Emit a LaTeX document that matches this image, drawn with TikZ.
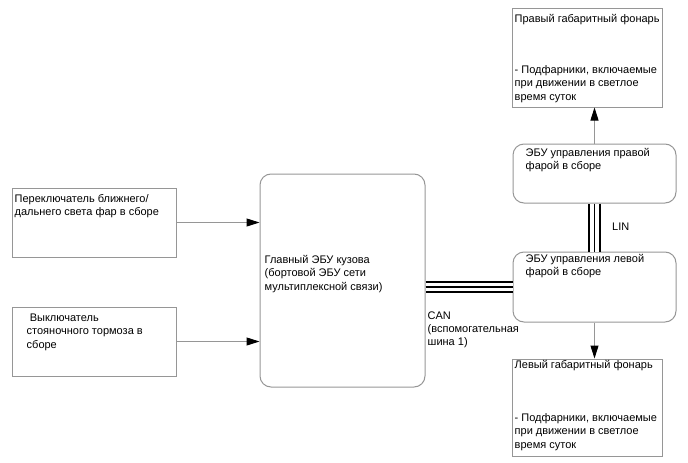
\documentclass[tikz,border=0pt]{standalone}
\usepackage{fontspec}
\setmainfont{Liberation Sans}
\usepackage{xcolor}
\usepackage{tikz}
\usetikzlibrary{arrows.meta,positioning,calc}
\definecolor{boxgray}{RGB}{150,150,150}
\newcommand{\BusLine}[2]{%
  \draw[line width=12.5pt] (#1) -- (#2);
  \draw[white, line width=8.5pt] (#1) -- (#2);
  \draw[line width=1.2pt] (#1) -- (#2);
}

\begin{document}
\begin{tikzpicture}[x=1pt, y=-1pt,
    font=\fontsize{11}{13.3}\selectfont,
    blockbox/.style={draw=boxgray, line width=1pt, inner sep=0pt},
    ecubox/.style={blockbox, rounded corners=11pt},
    txt/.style={anchor=base west, align=left, inner sep=0pt},
    sig/.style={color=boxgray, line width=1pt, -{Triangle[length=13pt,width=8pt,black]}}]
  \useasboundingbox (0,0) rectangle (688,463);
  % inputs
  \node[blockbox, minimum width=164pt, minimum height=69pt] (beam) at (94,222.5) {};
  \node[blockbox, minimum width=164pt, minimum height=69pt] (brake) at (94,341.5) {};
  \node[txt] (beam-txt) at ($(beam.north west)+(3,28.3)$) {Переключатель ближнего/\\дальнего света фар в сборе};
  \node[txt] (brake-txt) at ($(brake.north west)+(15,41.6)$) {\ Выключатель\\стояночного тормоза в\\сборе};
  % main ECU
  \node[ecubox, minimum width=165pt, minimum height=213pt] (main) at (342.5,280.5) {};
  \node[txt] (main-txt) at ($(main.north west)+(5,116.5)$) {Главный ЭБУ кузова\\(бортовой ЭБУ сети\\мультиплексной связи)};
  % headlamp ECUs
  \node[ecubox, minimum width=163pt, minimum height=59pt] (recu) at (594.5,173.5) {};
  \node[ecubox, minimum width=163pt, minimum height=70pt] (lecu) at (594.5,287) {};
  \node[txt] (recu-txt) at ($(recu.north west)+(13,26.3)$) {ЭБУ управления правой\\фарой в сборе};
  \node[txt] (lecu-txt) at ($(lecu.north west)+(13,24.3)$) {ЭБУ управления левой\\фарой в сборе};
  % lamps
  \node[blockbox, minimum width=150pt, minimum height=99pt] (rlamp) at (587,57.5) {};
  \node[blockbox, minimum width=150pt, minimum height=97pt] (llamp) at (587,407.5) {};
  \node[txt] (rlamp-ttl) at ($(rlamp.north west)+(3,15)$) {Правый габаритный фонарь};
  \node[txt] (rlamp-txt) at ($(rlamp.north west)+(3,92.6)$) {- Подфарники, включаемые\\при движении в светлое\\время суток};
  \node[txt] (llamp-ttl) at ($(llamp.north west)+(3,10)$) {Левый габаритный фонарь};
  \node[txt] (llamp-txt) at ($(llamp.north west)+(3,89.6)$) {- Подфарники, включаемые\\при движении в светлое\\время суток};
  % connectors
  \draw[sig] (beam.east) -- (beam.east -| main.west);
  \draw[sig] (brake.east) -- (brake.east -| main.west);
  \draw[sig] (recu.north) -- (recu.north |- rlamp.south);
  \draw[sig] (lecu.south) -- (lecu.south |- llamp.north);
  \coordinate (can-a) at (lecu.west -| main.east);
  \coordinate (lin-b) at (recu.south |- lecu.north);
  \BusLine{can-a}{lecu.west}
  \BusLine{recu.south}{lin-b}
  \node[txt] (can-txt) at ($(main.east)+(2,65.1)$) {CAN\\(вспомогательная\\шина 1)};
  \node[txt] (lin-txt) at (612,230) {LIN};
\end{tikzpicture}
\end{document}
